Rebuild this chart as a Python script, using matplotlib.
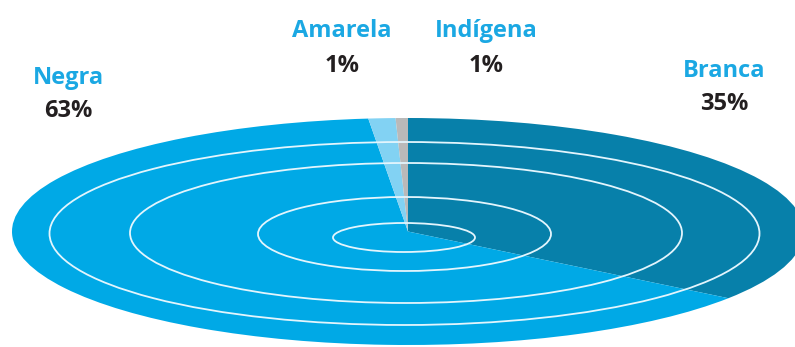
import matplotlib.pyplot as plt
from matplotlib.patches import Ellipse

# slice shares as drawn (clockwise from 12 o'clock)
groups = ['Branca', 'Negra', 'Amarela', 'Indígena']
shares = [35.0, 63.4, 1.1, 0.5]
labels = ['35%', '63%', '1%', '1%']
colors = ['#0780aa', '#00a9e6', '#82d2f3', '#b9b9b9']

W, H = 795, 347
cx, cy, rx, ry = 408, 231.5, 396, 113.5   # pie ellipse in pixels

fig = plt.figure(figsize=(W / 100, H / 100), dpi=100)
ax = fig.add_axes([0, 0, 1, 1])
ax.pie(shares, colors=colors, startangle=90, counterclock=False,
       radius=1, center=(0, 0), wedgeprops=dict(linewidth=0))
ax.set_aspect('auto')
ax.set_xlim(-cx / rx, (W - cx) / rx)
ax.set_ylim(-(H - cy) / ry, cy / ry)
ax.axis('off')

# decorative rings (pixel center x, y, half width, half height)
rings = [(404.5, 233.5, 355, 91.5),
         (406, 233, 276, 70),
         (404.5, 234, 146.5, 37),
         (404, 237.5, 71, 14.5)]
for x, y, a, b in rings:
    ax.add_patch(Ellipse(((x - cx) / rx, (cy - y) / ry), 2 * a / rx, 2 * b / ry,
                         fill=False, edgecolor='#e3f5fd', linewidth=1.3))

font = dict(family=['Open Sans', 'DejaVu Sans'], fontweight='bold', fontsize=17)
# name baseline / value baseline positions in pixels
spots = {'Negra': (68, 84, 117), 'Amarela': (342, 37, 72),
         'Indígena': (486, 37, 72), 'Branca': (724, 77, 110)}
for g, lab in zip(groups, labels):
    x, y1, y2 = spots[g]
    fig.text(x / W, 1 - y1 / H, g, color='#1ba8e3', ha='center', va='baseline', **font)
    fig.text(x / W, 1 - y2 / H, lab, color='#231f20', ha='center', va='baseline', **font)

fig.savefig('out.png', dpi=100)
